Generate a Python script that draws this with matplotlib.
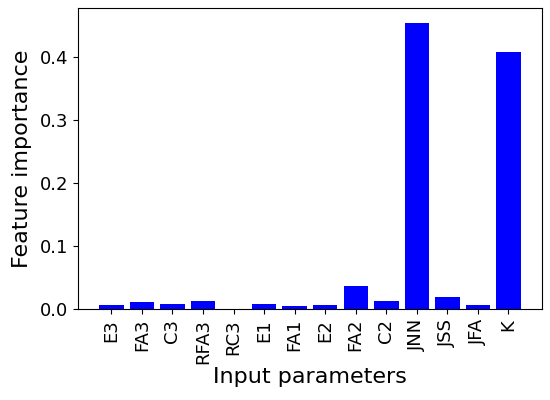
import matplotlib
matplotlib.use("Agg")
import matplotlib.pyplot as plt

# input parameters and their feature importance
params = ["E3", "FA3", "C3", "RFA3", "RC3", "E1", "FA1", "E2", "FA2", "C2", "JNN", "JSS", "JFA", "K"]
importance = [0.0069, 0.011, 0.009, 0.0137, 0.0002, 0.009, 0.0048, 0.0069, 0.0375, 0.0132, 0.454, 0.020, 0.0069, 0.408]

fig = plt.figure(figsize=(5.5, 4), dpi=100)
ax = fig.add_axes([0.142, 0.227, 0.843, 0.752])

ax.bar(params, importance, color="blue")
ax.set_xlabel("Input parameters", fontsize=16, labelpad=2)
ax.set_ylabel("Feature importance", fontsize=16, labelpad=6)
ax.tick_params(axis="both", labelsize=13)
plt.xticks(rotation=90)
ax.set_yticks([0.0, 0.1, 0.2, 0.3, 0.4])

fig.savefig("out.png", dpi=100)
